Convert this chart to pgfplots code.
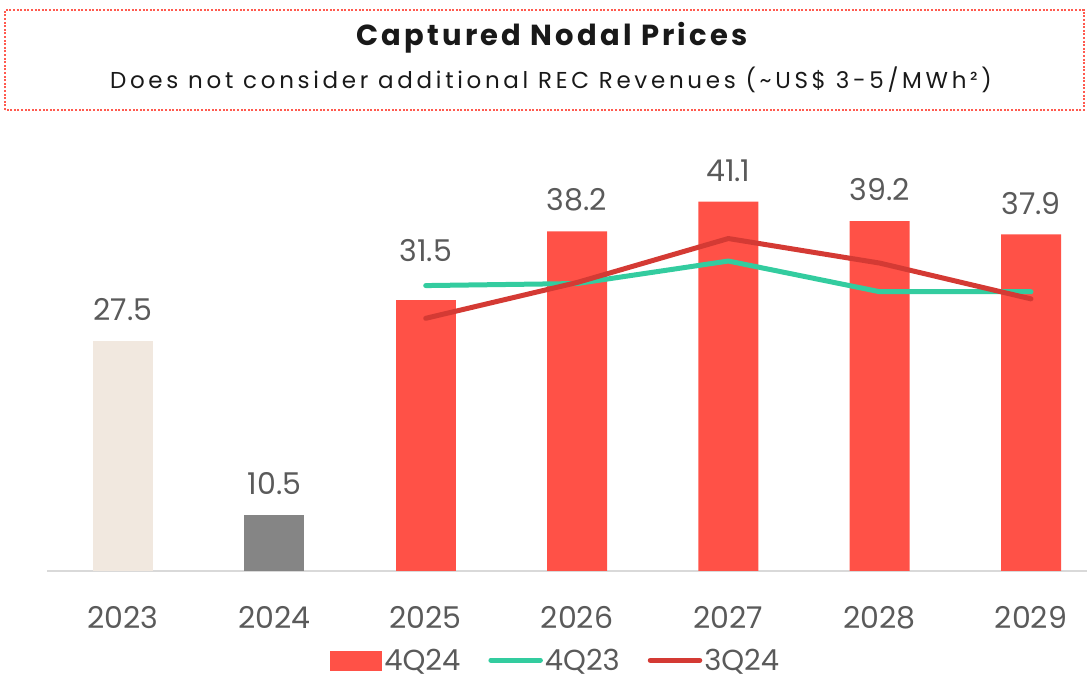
\documentclass[border=0pt]{standalone}
\usepackage{pgfplots}
\pgfplotsset{compat=1.18}
\usepackage{fontspec}
\setmainfont{Poppins}
\definecolor{barred}{HTML}{FF5147}
\definecolor{beige}{HTML}{F1E8DF}
\definecolor{bgray}{HTML}{858585}
\definecolor{teal4}{HTML}{33CC9F}
\definecolor{dred}{HTML}{D43A34}
\definecolor{txt}{HTML}{5A5A5A}
\definecolor{boxred}{HTML}{FF5A4F}
\begin{document}
\begin{tikzpicture}[x=1pt,y=1pt]
\useasboundingbox (0,0) rectangle (1087,680);
\draw[boxred, line width=2pt, dash pattern=on 2pt off 1.6pt] (5,570) rectangle (1084,670);
\node[font=\fontsize{29}{32}\selectfont\bfseries\addfontfeatures{LetterSpace=11}, text=black!90] at (552,642) {Captured Nodal Prices};
\node[font=\fontsize{23}{26}\selectfont\addfontfeatures{LetterSpace=16}, text=black!90] at (551,600) {Does not consider additional REC Revenues (\textasciitilde US\$ 3-5/MWh²)};
\begin{axis}[
  at={(47.4pt,109pt)}, anchor=south west,
  scale only axis, width=1039.6pt, height=409.2pt,
  xmin=-0.5, xmax=6.37, ymin=5, ymax=45,
  axis y line=none, axis x line*=bottom,
  x axis line style={draw=black!15, line width=1.5pt, -},
  xtick={0,1,2,3,4,5,6},
  xticklabels={2023,2024,2025,2026,2027,2028,2029},
  major tick length=0pt,
  ytick=\empty,
  clip=false,
  /pgf/number format/assume math mode=true,
  xticklabel style={font=\fontsize{30}{34}\selectfont, text=txt, inner sep=0pt, anchor=north, yshift=-35pt},
  legend style={at={(0.489,-0.218)}, anchor=center, draw=none, fill=none,
    legend columns=3, font=\fontsize{29}{34}\selectfont, text=txt,
    /tikz/every even column/.append style={column sep=26pt}},
  legend cell align=left,
  lbl/.style={nodes near coords={\pgfmathprintnumber[fixed,fixed zerofill,precision=1]{\pgfplotspointmeta}},
    every node near coord/.style={font=\fontsize{30}{34}\selectfont, text=txt, anchor=south, inner sep=0pt, yshift=20pt}},
]
\addplot[ybar, bar width=60pt, bar shift=0pt, fill=beige, draw=none, forget plot, lbl] coordinates {(0,27.5)};
\addplot[ybar, bar width=60pt, bar shift=0pt, fill=bgray, draw=none, forget plot, lbl] coordinates {(1,10.5)};
\addplot[ybar, bar width=60pt, bar shift=0pt, fill=barred, draw=none, forget plot] coordinates {(2,31.5)};
\addplot[ybar, bar width=60pt, bar shift=0pt, fill=barred, draw=none, lbl,
  legend image code/.code={\fill[barred] (0pt,-11pt) rectangle (52pt,9pt);}]
  coordinates {(3,38.2) (4,41.1) (5,39.2) (6,37.9)};
\addlegendentry{4Q24}
\addplot[teal4, line width=5pt, line cap=round, line join=round, mark=none,
  legend image code/.code={\draw[teal4, line width=5pt, line cap=round] (2.5pt,0pt) -- (52pt,0pt);}]
  coordinates {(2,32.9) (3,33.1) (4,35.3) (5,32.3) (6,32.3)};
\addlegendentry{4Q23}
\addplot[dred, line width=5pt, line cap=round, line join=round, mark=none,
  legend image code/.code={\draw[dred, line width=5pt, line cap=round] (2.5pt,0pt) -- (52pt,0pt);}]
  coordinates {(2,29.7) (3,33.2) (4,37.5) (5,35.1) (6,31.6)};
\addlegendentry{3Q24}
\node[font=\fontsize{30}{34}\selectfont, text=txt, anchor=south, inner sep=0pt, yshift=38pt] at (axis cs:2,31.5) {31.5};
\end{axis}
\end{tikzpicture}
\end{document}
